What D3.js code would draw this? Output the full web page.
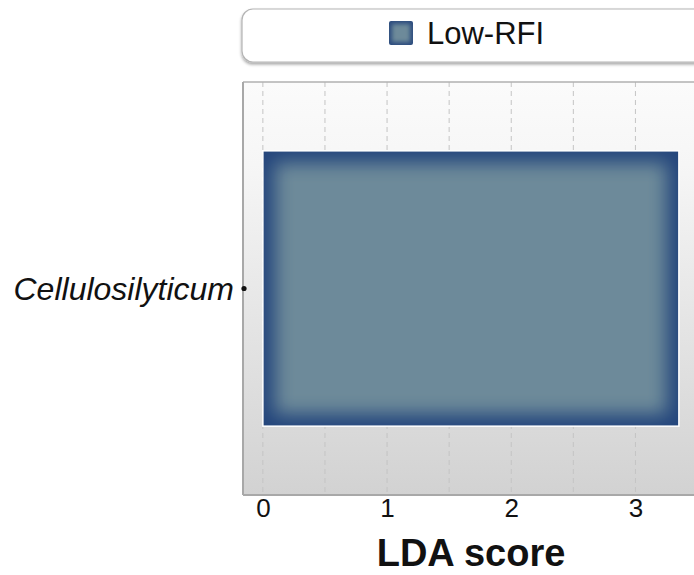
<!DOCTYPE html>
<html>
<head>
<meta charset="utf-8">
<script src="https://cdn.jsdelivr.net/npm/d3@7"></script>
<style>
  html, body { margin: 0; padding: 0; background: #fff; }
  svg { display: block; font-family: "Liberation Sans", Arial, sans-serif; }
</style>
</head>
<body>
<svg id="chart" width="694" height="575"></svg>
<script>
// LDA effect size for the enriched genus
const categories = ["Cellulosilyticum"];
const ldaScores = [3.35];
const seriesName = "Low-RFI";
const tickValues = [0, 1, 2, 3];
const gridValues = [0, 0.5, 1, 1.5, 2, 2.5, 3, 3.5];

const svg = d3.select("#chart");
const defs = svg.append("defs");

const plot = { left: 243, right: 700, top: 82, bottom: 495 };

const x = d3.scaleLinear().domain([-0.16, 3.52]).range([plot.left, plot.right]);
const y = d3.scaleBand().domain(categories).range([plot.top, plot.bottom])
  .paddingInner(0).paddingOuter(0.25);

// Panel background: light at top fading to grey at the bottom
const bg = defs.append("linearGradient").attr("id", "panelBg")
  .attr("x1", 0).attr("y1", 0).attr("x2", 0).attr("y2", 1);
bg.append("stop").attr("offset", "0%").attr("stop-color", "#fbfbfb");
bg.append("stop").attr("offset", "20%").attr("stop-color", "#f6f6f6");
bg.append("stop").attr("offset", "100%").attr("stop-color", "#d2d2d2");

// Soft inner glow for bar and legend key
const glow = defs.append("filter").attr("id", "glow")
  .attr("x", "-20%").attr("y", "-20%").attr("width", "140%").attr("height", "140%");
glow.append("feGaussianBlur").attr("stdDeviation", 9);

const glowSmall = defs.append("filter").attr("id", "glowSmall")
  .attr("x", "-20%").attr("y", "-20%").attr("width", "140%").attr("height", "140%");
glowSmall.append("feGaussianBlur").attr("stdDeviation", 2);

const shadow = defs.append("filter").attr("id", "boxShadow")
  .attr("x", "-5%").attr("y", "-20%").attr("width", "110%").attr("height", "150%");
shadow.append("feDropShadow").attr("dx", 0).attr("dy", 2).attr("stdDeviation", 1.5)
  .attr("flood-color", "#000").attr("flood-opacity", 0.35);

// Legend box
const legend = svg.append("g");
legend.append("rect")
  .attr("x", 242).attr("y", 9).attr("width", 470).attr("height", 53)
  .attr("rx", 11).attr("fill", "#fff")
  .attr("stroke", "#b4b4b4").attr("stroke-width", 1.2)
  .attr("filter", "url(#boxShadow)");
const keyX = 389, keyY = 21, keyS = 24;
defs.append("clipPath").attr("id", "keyClip").append("rect")
  .attr("x", keyX).attr("y", keyY).attr("width", keyS).attr("height", keyS).attr("rx", 2);
const key = legend.append("g").attr("clip-path", "url(#keyClip)");
key.append("rect").attr("x", keyX).attr("y", keyY).attr("width", keyS).attr("height", keyS)
  .attr("fill", "#2c4c7e");
key.append("rect").attr("x", keyX + 3).attr("y", keyY + 3).attr("width", keyS - 6).attr("height", keyS - 6)
  .attr("fill", "#6d8a9a").attr("filter", "url(#glowSmall)");
legend.append("text")
  .attr("x", 427).attr("y", 44)
  .attr("font-size", 31).attr("fill", "#111")
  .text(seriesName);

// Panel
svg.append("rect")
  .attr("x", plot.left).attr("y", plot.top)
  .attr("width", plot.right - plot.left).attr("height", plot.bottom - plot.top)
  .attr("fill", "url(#panelBg)");

// Vertical dashed grid
svg.append("g").selectAll("line").data(gridValues).join("line")
  .attr("x1", d => x(d)).attr("x2", d => x(d))
  .attr("y1", plot.top).attr("y2", plot.bottom)
  .attr("stroke", "#c4c4c4").attr("stroke-width", 1)
  .attr("stroke-dasharray", "5,4");

// Panel frame: grey top, left and bottom edges
svg.append("line").attr("x1", plot.left).attr("x2", plot.right)
  .attr("y1", plot.top).attr("y2", plot.top)
  .attr("stroke", "#b0b0b0").attr("stroke-width", 1.5);
svg.append("line").attr("x1", plot.left).attr("x2", plot.left)
  .attr("y1", plot.top).attr("y2", plot.bottom)
  .attr("stroke", "#a8a8a8").attr("stroke-width", 2);
svg.append("line").attr("x1", plot.left).attr("x2", plot.right)
  .attr("y1", plot.bottom).attr("y2", plot.bottom)
  .attr("stroke", "#a8a8a8").attr("stroke-width", 2);

// Bars
const bars = svg.append("g").selectAll("g").data(categories).join("g");
bars.each(function (c, i) {
  const g = d3.select(this);
  const bx = x(0), bw = x(ldaScores[i]) - x(0);
  const by = y(c), bh = y.bandwidth();
  const id = "barClip" + i;
  defs.append("clipPath").attr("id", id).append("rect")
    .attr("x", bx).attr("y", by).attr("width", bw).attr("height", bh);
  const inner = g.append("g").attr("clip-path", `url(#${id})`);
  inner.append("rect").attr("x", bx).attr("y", by).attr("width", bw).attr("height", bh)
    .attr("fill", "#24467c");
  inner.append("rect").attr("x", bx + 12).attr("y", by + 12)
    .attr("width", bw - 24).attr("height", bh - 24)
    .attr("fill", "#6d8a9a").attr("filter", "url(#glow)");
  g.append("rect").attr("x", bx).attr("y", by).attr("width", bw).attr("height", bh)
    .attr("fill", "none").attr("stroke", "#ffffff").attr("stroke-width", 1.5);
});

// Category labels with a dot marker on the axis
const yLabels = svg.append("g");
yLabels.selectAll("circle").data(categories).join("circle")
  .attr("cx", plot.left + 1).attr("cy", d => y(d) + y.bandwidth() / 2)
  .attr("r", 2.6).attr("fill", "#111");
yLabels.selectAll("text").data(categories).join("text")
  .attr("x", plot.left - 9).attr("y", d => y(d) + y.bandwidth() / 2)
  .attr("dy", "0.35em")
  .attr("text-anchor", "end")
  .attr("font-size", 32).attr("font-style", "italic").attr("fill", "#111")
  .text(d => d);

// X axis tick labels
const xAxis = d3.axisBottom(x).tickValues(tickValues).tickSize(0).tickPadding(4)
  .tickFormat(d3.format("d"));
const axisG = svg.append("g").attr("transform", `translate(0,${plot.bottom})`).call(xAxis);
axisG.select(".domain").remove();
axisG.selectAll("text")
  .attr("font-size", 26).attr("fill", "#111")
  .attr("font-family", "'Liberation Sans', Arial, sans-serif");

// X axis title
svg.append("text")
  .attr("x", 471).attr("y", 566)
  .attr("text-anchor", "middle")
  .attr("font-size", 38).attr("font-weight", "bold").attr("fill", "#111")
  .text("LDA score");
</script>
</body>
</html>
